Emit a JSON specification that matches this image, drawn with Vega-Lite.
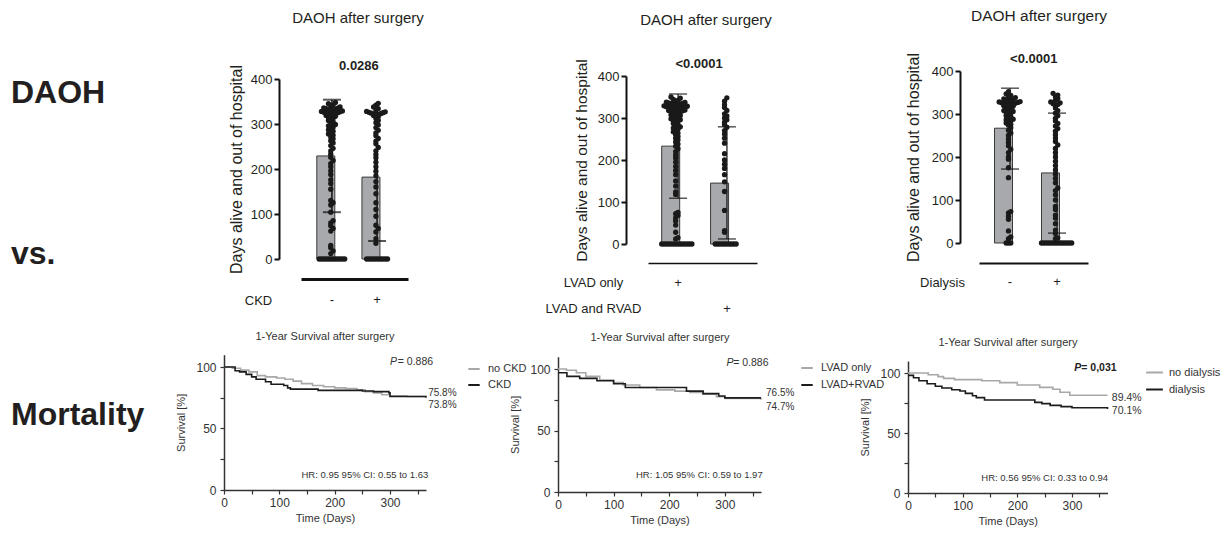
{
  "$schema": "https://vega.github.io/schema/vega-lite/v6.json",
  "padding": 0,
  "background": "white",
  "bounds": "flush",
  "spacing": 202,
  "resolve": {"scale": {"color": "independent"}, "legend": {"color": "independent"}},
  "config": {
    "font": "Liberation Sans",
    "view": {"stroke": null},
    "axis": {"grid": false, "labelFont": "Liberation Sans", "titleFont": "Liberation Sans", "labelOverlap": false, "labelFlush": false},
    "legend": {"labelFont": "Liberation Sans"},
    "title": {"font": "Liberation Sans"}
  },
  "datasets": {
    "p1sum": [{"g": "-", "mean": 229, "lo": 104, "hi": 354}, {"g": "+", "mean": 182, "lo": 40, "hi": 324}],
    "p2sum": [{"g": "LVAD only", "mean": 233, "lo": 109, "hi": 357}, {"g": "LVAD and RVAD", "mean": 145, "lo": 12, "hi": 279}],
    "p3sum": [{"g": "-", "mean": 267, "lo": 172, "hi": 360}, {"g": "+", "mean": 163, "lo": 23, "hi": 302}],
    "p1pts": [
      {"g":"-","v":0},{"g":"-","v":0},{"g":"-","v":0},{"g":"-","v":0},{"g":"-","v":0},{"g":"-","v":0},{"g":"-","v":0},{"g":"-","v":0},{"g":"-","v":0},{"g":"-","v":0},{"g":"-","v":0},{"g":"-","v":0},
      {"g":"-","v":12},{"g":"-","v":18},{"g":"-","v":25},{"g":"-","v":30},
      {"g":"-","v":62},{"g":"-","v":68},{"g":"-","v":74},{"g":"-","v":80},{"g":"-","v":85},
      {"g":"-","v":104},{"g":"-","v":120},{"g":"-","v":125},{"g":"-","v":130},
      {"g":"-","v":155},{"g":"-","v":168},{"g":"-","v":176},{"g":"-","v":188},{"g":"-","v":196},
      {"g":"-","v":205},{"g":"-","v":212},{"g":"-","v":219},{"g":"-","v":226},{"g":"-","v":233},{"g":"-","v":240},{"g":"-","v":246},{"g":"-","v":252},{"g":"-","v":258},
      {"g":"-","v":263},{"g":"-","v":267},{"g":"-","v":271},{"g":"-","v":275},{"g":"-","v":278},{"g":"-","v":281},{"g":"-","v":284},{"g":"-","v":287},{"g":"-","v":290},{"g":"-","v":293},{"g":"-","v":296},{"g":"-","v":299},
      {"g":"-","v":302},{"g":"-","v":305},{"g":"-","v":308},{"g":"-","v":311},{"g":"-","v":313},{"g":"-","v":315},{"g":"-","v":317},{"g":"-","v":319},{"g":"-","v":320},{"g":"-","v":321},{"g":"-","v":322},{"g":"-","v":323},{"g":"-","v":324},{"g":"-","v":325},{"g":"-","v":326},{"g":"-","v":327},{"g":"-","v":328},{"g":"-","v":329},{"g":"-","v":330},{"g":"-","v":331},{"g":"-","v":332},{"g":"-","v":333},{"g":"-","v":334},{"g":"-","v":335},{"g":"-","v":336},{"g":"-","v":338},{"g":"-","v":340},{"g":"-","v":342},{"g":"-","v":345},{"g":"-","v":348},
      {"g":"+","v":0},{"g":"+","v":0},{"g":"+","v":0},{"g":"+","v":0},{"g":"+","v":0},{"g":"+","v":0},{"g":"+","v":0},{"g":"+","v":0},{"g":"+","v":0},{"g":"+","v":0},
      {"g":"+","v":35},{"g":"+","v":45},{"g":"+","v":60},{"g":"+","v":68},{"g":"+","v":75},{"g":"+","v":95},{"g":"+","v":110},{"g":"+","v":125},{"g":"+","v":145},{"g":"+","v":160},{"g":"+","v":172},{"g":"+","v":185},{"g":"+","v":195},{"g":"+","v":205},{"g":"+","v":215},{"g":"+","v":225},{"g":"+","v":232},{"g":"+","v":240},{"g":"+","v":248},{"g":"+","v":256},{"g":"+","v":262},{"g":"+","v":268},{"g":"+","v":274},{"g":"+","v":280},{"g":"+","v":286},{"g":"+","v":292},{"g":"+","v":298},{"g":"+","v":303},{"g":"+","v":308},{"g":"+","v":312},{"g":"+","v":316},{"g":"+","v":319},{"g":"+","v":320},{"g":"+","v":321},{"g":"+","v":322},{"g":"+","v":323},{"g":"+","v":324},{"g":"+","v":325},{"g":"+","v":326},{"g":"+","v":327},{"g":"+","v":328},{"g":"+","v":330},{"g":"+","v":334},{"g":"+","v":338},{"g":"+","v":342},{"g":"+","v":346}
    ],
    "p2pts": [
      {"g":"LVAD only","v":0},{"g":"LVAD only","v":0},{"g":"LVAD only","v":0},{"g":"LVAD only","v":0},{"g":"LVAD only","v":0},{"g":"LVAD only","v":0},{"g":"LVAD only","v":0},{"g":"LVAD only","v":0},{"g":"LVAD only","v":0},{"g":"LVAD only","v":0},{"g":"LVAD only","v":0},{"g":"LVAD only","v":0},{"g":"LVAD only","v":0},{"g":"LVAD only","v":0},
      {"g":"LVAD only","v":12},{"g":"LVAD only","v":15},{"g":"LVAD only","v":28},{"g":"LVAD only","v":45},{"g":"LVAD only","v":55},{"g":"LVAD only","v":62},{"g":"LVAD only","v":68},{"g":"LVAD only","v":72},{"g":"LVAD only","v":75},
      {"g":"LVAD only","v":118},{"g":"LVAD only","v":124},{"g":"LVAD only","v":138},{"g":"LVAD only","v":150},{"g":"LVAD only","v":165},{"g":"LVAD only","v":175},{"g":"LVAD only","v":185},{"g":"LVAD only","v":195},
      {"g":"LVAD only","v":205},{"g":"LVAD only","v":212},{"g":"LVAD only","v":220},{"g":"LVAD only","v":227},{"g":"LVAD only","v":233},{"g":"LVAD only","v":238},{"g":"LVAD only","v":243},{"g":"LVAD only","v":248},{"g":"LVAD only","v":252},{"g":"LVAD only","v":256},
      {"g":"LVAD only","v":260},{"g":"LVAD only","v":264},{"g":"LVAD only","v":267},{"g":"LVAD only","v":270},{"g":"LVAD only","v":273},{"g":"LVAD only","v":276},{"g":"LVAD only","v":279},{"g":"LVAD only","v":282},{"g":"LVAD only","v":285},{"g":"LVAD only","v":287},{"g":"LVAD only","v":290},{"g":"LVAD only","v":292},{"g":"LVAD only","v":294},{"g":"LVAD only","v":296},{"g":"LVAD only","v":298},
      {"g":"LVAD only","v":300},{"g":"LVAD only","v":302},{"g":"LVAD only","v":304},{"g":"LVAD only","v":306},{"g":"LVAD only","v":308},{"g":"LVAD only","v":310},{"g":"LVAD only","v":312},{"g":"LVAD only","v":314},{"g":"LVAD only","v":315},{"g":"LVAD only","v":316},{"g":"LVAD only","v":317},{"g":"LVAD only","v":318},{"g":"LVAD only","v":319},
      {"g":"LVAD only","v":320},{"g":"LVAD only","v":321},{"g":"LVAD only","v":322},{"g":"LVAD only","v":323},{"g":"LVAD only","v":324},{"g":"LVAD only","v":325},{"g":"LVAD only","v":325},{"g":"LVAD only","v":326},{"g":"LVAD only","v":327},{"g":"LVAD only","v":328},{"g":"LVAD only","v":329},
      {"g":"LVAD only","v":330},{"g":"LVAD only","v":331},{"g":"LVAD only","v":332},{"g":"LVAD only","v":333},{"g":"LVAD only","v":334},{"g":"LVAD only","v":335},{"g":"LVAD only","v":336},{"g":"LVAD only","v":337},{"g":"LVAD only","v":338},{"g":"LVAD only","v":340},{"g":"LVAD only","v":342},{"g":"LVAD only","v":344},{"g":"LVAD only","v":347},{"g":"LVAD only","v":350},
      {"g":"LVAD and RVAD","v":0},{"g":"LVAD and RVAD","v":0},{"g":"LVAD and RVAD","v":0},{"g":"LVAD and RVAD","v":0},{"g":"LVAD and RVAD","v":0},{"g":"LVAD and RVAD","v":0},{"g":"LVAD and RVAD","v":0},{"g":"LVAD and RVAD","v":0},{"g":"LVAD and RVAD","v":0},{"g":"LVAD and RVAD","v":0},
      {"g":"LVAD and RVAD","v":28},{"g":"LVAD and RVAD","v":32},{"g":"LVAD and RVAD","v":80},{"g":"LVAD and RVAD","v":125},{"g":"LVAD and RVAD","v":148},{"g":"LVAD and RVAD","v":165},{"g":"LVAD and RVAD","v":180},{"g":"LVAD and RVAD","v":190},{"g":"LVAD and RVAD","v":200},{"g":"LVAD and RVAD","v":215},{"g":"LVAD and RVAD","v":240},{"g":"LVAD and RVAD","v":252},{"g":"LVAD and RVAD","v":262},{"g":"LVAD and RVAD","v":270},{"g":"LVAD and RVAD","v":278},{"g":"LVAD and RVAD","v":284},{"g":"LVAD and RVAD","v":290},{"g":"LVAD and RVAD","v":296},{"g":"LVAD and RVAD","v":300},{"g":"LVAD and RVAD","v":305},{"g":"LVAD and RVAD","v":310},{"g":"LVAD and RVAD","v":318},{"g":"LVAD and RVAD","v":325},{"g":"LVAD and RVAD","v":332},{"g":"LVAD and RVAD","v":340},{"g":"LVAD and RVAD","v":348}
    ],
    "p3pts": [
      {"g":"-","v":0},{"g":"-","v":0},{"g":"-","v":0},{"g":"-","v":10},{"g":"-","v":14},{"g":"-","v":28},{"g":"-","v":55},{"g":"-","v":62},{"g":"-","v":70},{"g":"-","v":73},{"g":"-","v":152},{"g":"-","v":175},{"g":"-","v":195},{"g":"-","v":200},{"g":"-","v":210},{"g":"-","v":218},{"g":"-","v":226},{"g":"-","v":234},{"g":"-","v":242},{"g":"-","v":250},{"g":"-","v":256},{"g":"-","v":262},{"g":"-","v":268},{"g":"-","v":274},{"g":"-","v":276},{"g":"-","v":279},{"g":"-","v":282},{"g":"-","v":284},{"g":"-","v":286},{"g":"-","v":288},{"g":"-","v":292},{"g":"-","v":294},{"g":"-","v":296},{"g":"-","v":300},{"g":"-","v":302},{"g":"-","v":304},{"g":"-","v":306},{"g":"-","v":308},{"g":"-","v":312},{"g":"-","v":314},{"g":"-","v":316},{"g":"-","v":318},{"g":"-","v":319},{"g":"-","v":320},{"g":"-","v":321},{"g":"-","v":322},{"g":"-","v":323},{"g":"-","v":324},{"g":"-","v":325},{"g":"-","v":326},{"g":"-","v":327},{"g":"-","v":328},{"g":"-","v":329},{"g":"-","v":330},{"g":"-","v":331},{"g":"-","v":332},{"g":"-","v":333},{"g":"-","v":335},{"g":"-","v":338},{"g":"-","v":340},{"g":"-","v":343},{"g":"-","v":347},{"g":"-","v":352},
      {"g":"+","v":0},{"g":"+","v":0},{"g":"+","v":0},{"g":"+","v":0},{"g":"+","v":0},{"g":"+","v":0},{"g":"+","v":0},{"g":"+","v":0},{"g":"+","v":0},{"g":"+","v":0},{"g":"+","v":0},{"g":"+","v":0},{"g":"+","v":0},{"g":"+","v":0},
      {"g":"+","v":10},{"g":"+","v":12},{"g":"+","v":22},{"g":"+","v":30},{"g":"+","v":45},{"g":"+","v":58},{"g":"+","v":65},{"g":"+","v":78},{"g":"+","v":85},{"g":"+","v":100},{"g":"+","v":112},{"g":"+","v":122},{"g":"+","v":128},{"g":"+","v":140},{"g":"+","v":150},{"g":"+","v":160},{"g":"+","v":170},{"g":"+","v":180},{"g":"+","v":190},{"g":"+","v":200},{"g":"+","v":210},{"g":"+","v":220},{"g":"+","v":228},{"g":"+","v":236},{"g":"+","v":244},{"g":"+","v":252},{"g":"+","v":260},{"g":"+","v":266},{"g":"+","v":272},{"g":"+","v":278},{"g":"+","v":284},{"g":"+","v":290},{"g":"+","v":296},{"g":"+","v":302},{"g":"+","v":308},{"g":"+","v":314},{"g":"+","v":320},{"g":"+","v":322},{"g":"+","v":324},{"g":"+","v":326},{"g":"+","v":328},{"g":"+","v":332},{"g":"+","v":336},{"g":"+","v":340},{"g":"+","v":344},{"g":"+","v":348}
    ],
    "km1": [
      {"g":"no CKD","t":0,"s":100},{"g":"no CKD","t":15,"s":99},{"g":"no CKD","t":30,"s":97.5},{"g":"no CKD","t":45,"s":96},{"g":"no CKD","t":60,"s":93},{"g":"no CKD","t":75,"s":92},{"g":"no CKD","t":95,"s":91},{"g":"no CKD","t":110,"s":90},{"g":"no CKD","t":125,"s":88.5},{"g":"no CKD","t":140,"s":86.5},{"g":"no CKD","t":160,"s":85},{"g":"no CKD","t":180,"s":84},{"g":"no CKD","t":200,"s":83},{"g":"no CKD","t":220,"s":82.5},{"g":"no CKD","t":240,"s":81.5},{"g":"no CKD","t":255,"s":80},{"g":"no CKD","t":270,"s":79},{"g":"no CKD","t":285,"s":77.5},{"g":"no CKD","t":300,"s":76.5},{"g":"no CKD","t":330,"s":76},{"g":"no CKD","t":365,"s":76},
      {"g":"CKD","t":0,"s":100},{"g":"CKD","t":20,"s":97},{"g":"CKD","t":28,"s":96},{"g":"CKD","t":40,"s":94},{"g":"CKD","t":50,"s":92},{"g":"CKD","t":58,"s":90},{"g":"CKD","t":75,"s":88},{"g":"CKD","t":85,"s":86},{"g":"CKD","t":108,"s":85},{"g":"CKD","t":115,"s":83},{"g":"CKD","t":120,"s":82},{"g":"CKD","t":170,"s":81},{"g":"CKD","t":250,"s":80.5},{"g":"CKD","t":270,"s":80},{"g":"CKD","t":298,"s":79},{"g":"CKD","t":300,"s":76},{"g":"CKD","t":365,"s":75}
    ],
    "km2": [
      {"g":"LVAD only","t":0,"s":100},{"g":"LVAD only","t":15,"s":99},{"g":"LVAD only","t":33,"s":97},{"g":"LVAD only","t":50,"s":94},{"g":"LVAD only","t":75,"s":91},{"g":"LVAD only","t":100,"s":89},{"g":"LVAD only","t":117,"s":87},{"g":"LVAD only","t":147,"s":85},{"g":"LVAD only","t":177,"s":83},{"g":"LVAD only","t":210,"s":82},{"g":"LVAD only","t":237,"s":81},{"g":"LVAD only","t":260,"s":79.5},{"g":"LVAD only","t":285,"s":77.5},{"g":"LVAD only","t":300,"s":76},{"g":"LVAD only","t":365,"s":75},
      {"g":"LVAD+RVAD","t":0,"s":97},{"g":"LVAD+RVAD","t":16,"s":94},{"g":"LVAD+RVAD","t":39,"s":92.4},{"g":"LVAD+RVAD","t":70,"s":90.5},{"g":"LVAD+RVAD","t":100,"s":88},{"g":"LVAD+RVAD","t":121,"s":85},{"g":"LVAD+RVAD","t":231,"s":82},{"g":"LVAD+RVAD","t":261,"s":80},{"g":"LVAD+RVAD","t":289,"s":78},{"g":"LVAD+RVAD","t":300,"s":76.5},{"g":"LVAD+RVAD","t":365,"s":76.5}
    ],
    "km3": [
      {"g":"no dialysis","t":0,"s":100},{"g":"no dialysis","t":37,"s":98.5},{"g":"no dialysis","t":55,"s":97},{"g":"no dialysis","t":65,"s":95.5},{"g":"no dialysis","t":85,"s":94.5},{"g":"no dialysis","t":135,"s":93.5},{"g":"no dialysis","t":168,"s":92},{"g":"no dialysis","t":200,"s":90},{"g":"no dialysis","t":241,"s":88},{"g":"no dialysis","t":265,"s":86.5},{"g":"no dialysis","t":278,"s":84},{"g":"no dialysis","t":296,"s":81.5},{"g":"no dialysis","t":365,"s":81.5},
      {"g":"dialysis","t":0,"s":98},{"g":"dialysis","t":10,"s":96},{"g":"dialysis","t":20,"s":93.5},{"g":"dialysis","t":35,"s":91},{"g":"dialysis","t":50,"s":89},{"g":"dialysis","t":62,"s":87.5},{"g":"dialysis","t":80,"s":86},{"g":"dialysis","t":95,"s":85},{"g":"dialysis","t":105,"s":83},{"g":"dialysis","t":118,"s":81},{"g":"dialysis","t":125,"s":79.5},{"g":"dialysis","t":140,"s":77.5},{"g":"dialysis","t":227,"s":77.5},{"g":"dialysis","t":232,"s":75.5},{"g":"dialysis","t":245,"s":74.5},{"g":"dialysis","t":260,"s":73},{"g":"dialysis","t":280,"s":72},{"g":"dialysis","t":300,"s":71},{"g":"dialysis","t":365,"s":70}
    ]
  },
  "hconcat": [
    {
      "width": 22,
      "height": 533,
      "data": {"values": [{"label": "DAOH"}, {"label": "vs."}, {"label": "Mortality"}]},
      "mark": {"type": "text", "align": "left", "baseline": "alphabetic", "fontSize": 32, "fontWeight": "bold", "color": "#231f20", "font": "Liberation Sans"},
      "encoding": {
        "y": {"field": "label", "type": "nominal", "scale": {"type": "point", "domain": ["DAOH", "vs.", "Mortality"], "range": [103, 425], "padding": 0}, "axis": null},
        "text": {"field": "label"}
      }
    },
    {
      "resolve": {"scale": {"color": "independent"}, "legend": {"color": "independent"}},
      "vconcat": [
        {
          "hconcat": [
            {
              "width": 424,
              "height": 259,
              "title": {"text": "DAOH after surgery", "anchor": "start", "align": "center", "frame": "group", "dx": 134, "offset": -33, "baseline": "middle", "fontSize": 15, "fontWeight": "normal", "color": "#231f20"},
              "encoding": {
                "x": {"field": "g", "type": "nominal", "title": "CKD",
                  "scale": {"domain": ["-", "+"], "range": [77, 184], "paddingInner": 0.33, "paddingOuter": 0.35},
                  "axis": {"offset": 20, "domainWidth": 3, "domainColor": "#111", "ticks": false, "tickSize": 0, "labelAngle": 0, "labelPadding": 14, "labelFontSize": 13, "labelColor": "#231f20", "labelBaseline": "top", "titleX": 34, "titleY": 21, "titleAlign": "center", "titleBaseline": "middle", "titleFontSize": 13, "titleFontWeight": "normal", "titleColor": "#231f20"}}
              },
              "layer": [
                {"data": {"name": "p1sum"}, "mark": {"type": "bar", "color": "#a7a9ac", "stroke": "#3a3a3a", "strokeWidth": 1},
                  "encoding": {"y": {"field": "mean", "type": "quantitative", "title": "Days alive and out of hospital", "scale": {"domain": [0, 400], "range": [259, 79], "nice": false},
                    "axis": {"offset": -55, "values": [0, 100, 200, 300, 400], "domainWidth": 2, "domainColor": "#111", "tickWidth": 2, "tickColor": "#111", "tickSize": 5, "labelPadding": 2, "labelFontSize": 13, "labelColor": "#231f20", "titleFontSize": 16, "titleFontWeight": "normal", "titleColor": "#231f20", "titlePadding": 6}}}},
                {"data": {"name": "p1sum"}, "mark": {"type": "rule", "color": "#111", "strokeWidth": 1.5},
                  "encoding": {"y": {"field": "lo", "type": "quantitative", "title": "Days alive and out of hospital", "scale": {"domain": [0, 400], "range": [259, 79], "nice": false}}, "y2": {"field": "hi"}}},
                {"data": {"name": "p1sum"}, "mark": {"type": "tick", "size": 18, "thickness": 2, "color": "#111"},
                  "encoding": {"y": {"field": "lo", "type": "quantitative", "title": "Days alive and out of hospital", "scale": {"domain": [0, 400], "range": [259, 79], "nice": false}}}},
                {"data": {"name": "p1sum"}, "mark": {"type": "tick", "size": 18, "thickness": 2, "color": "#111"},
                  "encoding": {"y": {"field": "hi", "type": "quantitative", "title": "Days alive and out of hospital", "scale": {"domain": [0, 400], "range": [259, 79], "nice": false}}}},
                {"data": {"name": "p1pts"},
                  "transform": [{"bin": {"step": 10}, "field": "v", "as": "vb"}, {"window": [{"op": "row_number", "as": "k"}], "groupby": ["g", "vb"]}],
                  "mark": {"type": "circle", "size": 28, "color": "#1a1a1a", "opacity": 1},
                  "encoding": {
                    "xOffset": {"field": "k", "type": "ordinal", "scale": {"domain": [13, 11, 9, 7, 5, 3, 1, 2, 4, 6, 8, 10, 12, 14], "paddingInner": 0, "paddingOuter": 0}},
                    "y": {"field": "v", "type": "quantitative", "title": "Days alive and out of hospital", "scale": {"domain": [0, 400], "range": [259, 79], "nice": false}}}},
                {"data": {"values": [{}]}, "mark": {"type": "text", "align": "center", "baseline": "middle", "fontSize": 13, "fontWeight": "bold", "color": "#231f20"},
                  "encoding": {"x": {"datum": "+", "bandPosition": -0.1}, "y": {"datum": 428, "type": "quantitative", "scale": {"domain": [0, 400], "range": [259, 79], "nice": false}}, "text": {"value": "0.0286"}}}
              ]
            },
            {
              "width": 331,
              "height": 259,
              "title": {"text": "DAOH after surgery", "anchor": "start", "align": "center", "frame": "group", "dx": 58, "offset": -35, "baseline": "middle", "fontSize": 15, "fontWeight": "normal", "color": "#231f20"},
              "encoding": {
                "x": {"field": "g", "type": "nominal", "title": ["LVAD only", "LVAD and RVAD"],
                  "scale": {"domain": ["LVAD only", "LVAD and RVAD"], "range": [0, 109], "paddingInner": 0.33, "paddingOuter": 0.28},
                  "axis": {"offset": 4, "domainWidth": 1.5, "domainColor": "#111", "ticks": false, "tickSize": 0, "labelAngle": 0, "labelPadding": 13, "labelFontSize": 13, "labelColor": "#231f20", "labelBaseline": "top", "labelLineHeight": 26, "labelExpr": "datum.value == 'LVAD only' ? ['+', ''] : ['', '+']", "titleX": -55, "titleY": 13, "titleAlign": "center", "titleBaseline": "top", "titleLineHeight": 26, "titleFontSize": 13, "titleFontWeight": "normal", "titleColor": "#231f20"}}
              },
              "layer": [
                {"data": {"name": "p2sum"}, "mark": {"type": "bar", "color": "#a7a9ac", "stroke": "#3a3a3a", "strokeWidth": 1},
                  "encoding": {"y": {"field": "mean", "type": "quantitative", "title": "Days alive and out of hospital", "scale": {"domain": [0, 400], "range": [244, 76], "nice": false},
                    "axis": {"offset": 22, "values": [0, 100, 200, 300, 400], "domainWidth": 2, "domainColor": "#111", "tickWidth": 2, "tickColor": "#111", "tickSize": 5, "labelPadding": 2, "labelFontSize": 13, "labelColor": "#231f20", "titleFontSize": 15.5, "titleFontWeight": "normal", "titleColor": "#231f20", "titlePadding": 8}}}},
                {"data": {"name": "p2sum"}, "mark": {"type": "rule", "color": "#111", "strokeWidth": 1.2},
                  "encoding": {"y": {"field": "lo", "type": "quantitative", "title": "Days alive and out of hospital", "scale": {"domain": [0, 400], "range": [244, 76], "nice": false}}, "y2": {"field": "hi"}}},
                {"data": {"name": "p2sum"}, "mark": {"type": "tick", "size": 18, "thickness": 1.5, "color": "#111"},
                  "encoding": {"y": {"field": "lo", "type": "quantitative", "title": "Days alive and out of hospital", "scale": {"domain": [0, 400], "range": [244, 76], "nice": false}}}},
                {"data": {"name": "p2sum"}, "mark": {"type": "tick", "size": 18, "thickness": 1.5, "color": "#111"},
                  "encoding": {"y": {"field": "hi", "type": "quantitative", "title": "Days alive and out of hospital", "scale": {"domain": [0, 400], "range": [244, 76], "nice": false}}}},
                {"data": {"name": "p2pts"},
                  "transform": [{"bin": {"step": 10}, "field": "v", "as": "vb"}, {"window": [{"op": "row_number", "as": "k"}], "groupby": ["g", "vb"]}],
                  "mark": {"type": "circle", "size": 28, "color": "#1a1a1a", "opacity": 1},
                  "encoding": {
                    "xOffset": {"field": "k", "type": "ordinal", "scale": {"domain": [13, 11, 9, 7, 5, 3, 1, 2, 4, 6, 8, 10, 12, 14], "paddingInner": 0, "paddingOuter": 0}},
                    "y": {"field": "v", "type": "quantitative", "title": "Days alive and out of hospital", "scale": {"domain": [0, 400], "range": [244, 76], "nice": false}}}},
                {"data": {"values": [{}]}, "mark": {"type": "text", "align": "center", "baseline": "middle", "fontSize": 13, "fontWeight": "bold", "color": "#231f20"},
                  "encoding": {"x": {"datum": "LVAD and RVAD", "bandPosition": -0.35}, "y": {"datum": 428, "type": "quantitative", "scale": {"domain": [0, 400], "range": [244, 76], "nice": false}}, "text": {"value": "<0.0001"}}}
              ]
            },
            {
              "width": 120,
              "height": 259,
              "title": {"text": "DAOH after surgery", "anchor": "start", "align": "center", "frame": "group", "dx": 60, "offset": -31, "baseline": "middle", "fontSize": 15.5, "fontWeight": "normal", "color": "#231f20"},
              "encoding": {
                "x": {"field": "g", "type": "nominal", "title": "Dialysis",
                  "scale": {"domain": ["-", "+"], "range": [0, 109], "paddingInner": 0.34, "paddingOuter": 0.33},
                  "axis": {"offset": 4, "domainWidth": 2, "domainColor": "#111", "ticks": false, "tickSize": 0, "labelAngle": 0, "labelPadding": 12, "labelFontSize": 13, "labelColor": "#231f20", "labelBaseline": "top", "titleX": -37, "titleY": 19, "titleAlign": "center", "titleBaseline": "middle", "titleFontSize": 13, "titleFontWeight": "normal", "titleColor": "#231f20"}}
              },
              "layer": [
                {"data": {"name": "p3sum"}, "mark": {"type": "bar", "color": "#a7a9ac", "stroke": "#3a3a3a", "strokeWidth": 1},
                  "encoding": {"y": {"field": "mean", "type": "quantitative", "title": "Days alive and out of hospital", "scale": {"domain": [0, 400], "range": [243, 71], "nice": false},
                    "axis": {"offset": 19, "values": [0, 100, 200, 300, 400], "domainWidth": 2, "domainColor": "#111", "tickWidth": 2, "tickColor": "#111", "tickSize": 5, "labelPadding": 2, "labelFontSize": 13, "labelColor": "#231f20", "titleFontSize": 16, "titleFontWeight": "normal", "titleColor": "#231f20", "titlePadding": 10}}}},
                {"data": {"name": "p3sum"}, "mark": {"type": "rule", "color": "#111", "strokeWidth": 1.2},
                  "encoding": {"y": {"field": "lo", "type": "quantitative", "title": "Days alive and out of hospital", "scale": {"domain": [0, 400], "range": [243, 71], "nice": false}}, "y2": {"field": "hi"}}},
                {"data": {"name": "p3sum"}, "mark": {"type": "tick", "size": 18, "thickness": 1.5, "color": "#111"},
                  "encoding": {"y": {"field": "lo", "type": "quantitative", "title": "Days alive and out of hospital", "scale": {"domain": [0, 400], "range": [243, 71], "nice": false}}}},
                {"data": {"name": "p3sum"}, "mark": {"type": "tick", "size": 18, "thickness": 1.5, "color": "#111"},
                  "encoding": {"y": {"field": "hi", "type": "quantitative", "title": "Days alive and out of hospital", "scale": {"domain": [0, 400], "range": [243, 71], "nice": false}}}},
                {"data": {"name": "p3pts"},
                  "transform": [{"bin": {"step": 10}, "field": "v", "as": "vb"}, {"window": [{"op": "row_number", "as": "k"}], "groupby": ["g", "vb"]}],
                  "mark": {"type": "circle", "size": 28, "color": "#1a1a1a", "opacity": 1},
                  "encoding": {
                    "xOffset": {"field": "k", "type": "ordinal", "scale": {"domain": [13, 11, 9, 7, 5, 3, 1, 2, 4, 6, 8, 10, 12, 14], "paddingInner": 0, "paddingOuter": 0}},
                    "y": {"field": "v", "type": "quantitative", "title": "Days alive and out of hospital", "scale": {"domain": [0, 400], "range": [243, 71], "nice": false}}}},
                {"data": {"values": [{}]}, "mark": {"type": "text", "align": "center", "baseline": "middle", "fontSize": 13, "fontWeight": "bold", "color": "#231f20"},
                  "encoding": {"x": {"datum": "+", "bandPosition": -0.25}, "y": {"datum": 428, "type": "quantitative", "scale": {"domain": [0, 400], "range": [243, 71], "nice": false}}, "text": {"value": "<0.0001"}}}
              ]
            }
          ],
          "spacing": 0,
          "bounds": "flush"
        },
        {
          "resolve": {"scale": {"color": "independent"}, "legend": {"color": "independent"}},
          "hconcat": [
            {
              "width": 334,
              "height": 136,
              "title": {"text": "1-Year Survival after surgery", "anchor": "start", "align": "center", "frame": "group", "dx": 101, "offset": 6, "baseline": "middle", "fontSize": 11, "fontWeight": "normal", "color": "#333"},
              "encoding": {
                "x": {"type": "quantitative", "title": "Time (Days)", "scale": {"domain": [0, 365], "range": [0, 202], "nice": false, "zero": false},
                  "axis": {"values": [0, 50, 100, 150, 200, 250, 300, 350], "labelExpr": "datum.value % 100 == 0 ? datum.label : ''", "domainColor": "#333", "domainWidth": 1.5, "tickColor": "#333", "tickWidth": 1.2, "tickSize": 4, "labelFontSize": 12, "labelColor": "#333", "labelPadding": 3, "titleFontSize": 11, "titleFontWeight": "normal", "titleColor": "#333", "titlePadding": 4}},
                "y": {"type": "quantitative", "title": "Survival [%]", "scale": {"domain": [0, 110], "range": [136, 0.7], "nice": false},
                  "axis": {"values": [0, 25, 50, 75, 100], "labelExpr": "datum.value % 50 == 0 ? datum.label : ''", "domainColor": "#333", "domainWidth": 1.5, "tickColor": "#333", "tickWidth": 1.2, "tickSize": 4, "labelFontSize": 12, "labelColor": "#333", "labelPadding": 4, "titleFontSize": 11, "titleFontWeight": "normal", "titleColor": "#333", "titlePadding": 9}}
              },
              "layer": [
                {"data": {"name": "km1"}, "mark": {"type": "line", "interpolate": "step-after", "strokeWidth": 1.6},
                  "encoding": {"x": {"field": "t"}, "y": {"field": "s"},
                    "color": {"field": "g", "type": "nominal", "scale": {"domain": ["no CKD", "CKD"], "range": ["#a8a8a8", "#1c1c1c"]},
                      "legend": {"orient": "none", "legendX": 243, "legendY": 8, "title": null, "symbolType": "stroke", "symbolSize": 130, "symbolStrokeWidth": 2, "labelFontSize": 11, "labelColor": "#333", "labelOffset": 7, "rowPadding": 4, "padding": 0}}}},
                {"data": {"values": [{}]}, "mark": {"type": "text", "align": "left", "baseline": "middle", "fontSize": 10.5, "fontStyle": "italic", "color": "#333"},
                  "encoding": {"x": {"datum": 300}, "y": {"datum": 104}, "text": {"value": "P"}}},
                {"data": {"values": [{}]}, "mark": {"type": "text", "align": "left", "baseline": "middle", "fontSize": 10.5, "color": "#333"},
                  "encoding": {"x": {"datum": 314}, "y": {"datum": 104}, "text": {"value": "= 0.886"}}},
                {"data": {"values": [{}]}, "mark": {"type": "text", "align": "left", "baseline": "middle", "fontSize": 10, "color": "#333"},
                  "encoding": {"x": {"datum": 369}, "y": {"datum": 79}, "text": {"value": "75.8%"}}},
                {"data": {"values": [{}]}, "mark": {"type": "text", "align": "left", "baseline": "middle", "fontSize": 10, "color": "#333"},
                  "encoding": {"x": {"datum": 369}, "y": {"datum": 69}, "text": {"value": "73.8%"}}},
                {"data": {"values": [{}]}, "mark": {"type": "text", "align": "right", "baseline": "middle", "fontSize": 9.5, "color": "#333"},
                  "encoding": {"x": {"datum": 369}, "y": {"datum": 12}, "text": {"value": "HR: 0.95 95% CI: 0.55 to 1.63"}}}
              ]
            },
            {
              "width": 350,
              "height": 138,
              "title": {"text": "1-Year Survival after surgery", "anchor": "start", "align": "center", "frame": "group", "dx": 102, "offset": 5, "baseline": "middle", "fontSize": 11, "fontWeight": "normal", "color": "#333"},
              "encoding": {
                "x": {"type": "quantitative", "title": "Time (Days)", "scale": {"domain": [0, 365], "range": [0, 203], "nice": false, "zero": false},
                  "axis": {"values": [0, 50, 100, 150, 200, 250, 300, 350], "labelExpr": "datum.value % 100 == 0 ? datum.label : ''", "domainColor": "#333", "domainWidth": 1.5, "tickColor": "#333", "tickWidth": 1.2, "tickSize": 4, "labelFontSize": 12, "labelColor": "#333", "labelPadding": 3, "titleFontSize": 11, "titleFontWeight": "normal", "titleColor": "#333", "titlePadding": 4}},
                "y": {"type": "quantitative", "title": "Survival [%]", "scale": {"domain": [0, 110], "range": [138, 2.7], "nice": false},
                  "axis": {"values": [0, 25, 50, 75, 100], "labelExpr": "datum.value % 50 == 0 ? datum.label : ''", "domainColor": "#333", "domainWidth": 1.5, "tickColor": "#333", "tickWidth": 1.2, "tickSize": 4, "labelFontSize": 12, "labelColor": "#333", "labelPadding": 4, "titleFontSize": 11, "titleFontWeight": "normal", "titleColor": "#333", "titlePadding": 9}}
              },
              "layer": [
                {"data": {"name": "km2"}, "mark": {"type": "line", "interpolate": "step-after", "strokeWidth": 1.6},
                  "encoding": {"x": {"field": "t"}, "y": {"field": "s"},
                    "color": {"field": "g", "type": "nominal", "scale": {"domain": ["LVAD only", "LVAD+RVAD"], "range": ["#a8a8a8", "#1c1c1c"]},
                      "legend": {"orient": "none", "legendX": 242, "legendY": 7, "title": null, "symbolType": "stroke", "symbolSize": 130, "symbolStrokeWidth": 2, "labelFontSize": 11, "labelColor": "#333", "labelOffset": 7, "rowPadding": 5, "padding": 0}}}},
                {"data": {"values": [{}]}, "mark": {"type": "text", "align": "left", "baseline": "middle", "fontSize": 10.5, "fontStyle": "italic", "color": "#333"},
                  "encoding": {"x": {"datum": 303}, "y": {"datum": 105}, "text": {"value": "P"}}},
                {"data": {"values": [{}]}, "mark": {"type": "text", "align": "left", "baseline": "middle", "fontSize": 10.5, "color": "#333"},
                  "encoding": {"x": {"datum": 315}, "y": {"datum": 105}, "text": {"value": "= 0.886"}}},
                {"data": {"values": [{}]}, "mark": {"type": "text", "align": "left", "baseline": "middle", "fontSize": 10, "color": "#333"},
                  "encoding": {"x": {"datum": 374}, "y": {"datum": 80.5}, "text": {"value": "76.5%"}}},
                {"data": {"values": [{}]}, "mark": {"type": "text", "align": "left", "baseline": "middle", "fontSize": 10, "color": "#333"},
                  "encoding": {"x": {"datum": 374}, "y": {"datum": 69}, "text": {"value": "74.7%"}}},
                {"data": {"values": [{}]}, "mark": {"type": "text", "align": "right", "baseline": "middle", "fontSize": 9.5, "color": "#333"},
                  "encoding": {"x": {"datum": 368}, "y": {"datum": 14}, "text": {"value": "HR: 1.05 95% CI: 0.59 to 1.97"}}}
              ]
            },
            {
              "width": 200,
              "height": 139,
              "title": {"text": "1-Year Survival after surgery", "anchor": "start", "align": "center", "frame": "group", "dx": 100, "offset": 0, "baseline": "middle", "fontSize": 11, "fontWeight": "normal", "color": "#333"},
              "encoding": {
                "x": {"type": "quantitative", "title": "Time (Days)", "scale": {"domain": [0, 365], "range": [0, 199.5], "nice": false, "zero": false},
                  "axis": {"values": [0, 50, 100, 150, 200, 250, 300, 350], "labelExpr": "datum.value % 100 == 0 ? datum.label : ''", "domainColor": "#333", "domainWidth": 1.5, "tickColor": "#333", "tickWidth": 1.2, "tickSize": 4, "labelFontSize": 12, "labelColor": "#333", "labelPadding": 3, "titleFontSize": 11, "titleFontWeight": "normal", "titleColor": "#333", "titlePadding": 4}},
                "y": {"type": "quantitative", "title": "Survival [%]", "scale": {"domain": [0, 110], "range": [139, 7], "nice": false},
                  "axis": {"values": [0, 25, 50, 75, 100], "labelExpr": "datum.value % 50 == 0 ? datum.label : ''", "domainColor": "#333", "domainWidth": 1.5, "tickColor": "#333", "tickWidth": 1.2, "tickSize": 4, "labelFontSize": 12, "labelColor": "#333", "labelPadding": 4, "titleFontSize": 11, "titleFontWeight": "normal", "titleColor": "#333", "titlePadding": 9}}
              },
              "layer": [
                {"data": {"name": "km3"}, "mark": {"type": "line", "interpolate": "step-after", "strokeWidth": 1.6},
                  "encoding": {"x": {"field": "t"}, "y": {"field": "s"},
                    "color": {"field": "g", "type": "nominal", "scale": {"domain": ["no dialysis", "dialysis"], "range": ["#a8a8a8", "#1c1c1c"]},
                      "legend": {"orient": "none", "legendX": 237, "legendY": 9, "title": null, "symbolType": "stroke", "symbolSize": 280, "symbolStrokeWidth": 2, "labelFontSize": 11, "labelColor": "#333", "labelOffset": 5, "rowPadding": 2, "padding": 0}}}},
                {"data": {"values": [{}]}, "mark": {"type": "text", "align": "left", "baseline": "middle", "fontSize": 10.5, "fontStyle": "italic", "fontWeight": "bold", "color": "#222"},
                  "encoding": {"x": {"datum": 304}, "y": {"datum": 104}, "text": {"value": "P"}}},
                {"data": {"values": [{}]}, "mark": {"type": "text", "align": "left", "baseline": "middle", "fontSize": 10.5, "fontWeight": "bold", "color": "#222"},
                  "encoding": {"x": {"datum": 317}, "y": {"datum": 104}, "text": {"value": "= 0,031"}}},
                {"data": {"values": [{}]}, "mark": {"type": "text", "align": "left", "baseline": "middle", "fontSize": 10.5, "color": "#333"},
                  "encoding": {"x": {"datum": 373}, "y": {"datum": 79}, "text": {"value": "89.4%"}}},
                {"data": {"values": [{}]}, "mark": {"type": "text", "align": "left", "baseline": "middle", "fontSize": 10.5, "color": "#333"},
                  "encoding": {"x": {"datum": 373}, "y": {"datum": 68}, "text": {"value": "70.1%"}}},
                {"data": {"values": [{}]}, "mark": {"type": "text", "align": "right", "baseline": "middle", "fontSize": 9.5, "color": "#333"},
                  "encoding": {"x": {"datum": 366}, "y": {"datum": 12.5}, "text": {"value": "HR: 0.56 95% CI: 0.33 to 0.94"}}}
              ]
            }
          ],
          "spacing": 0,
          "bounds": "flush"
        }
      ],
      "spacing": 354,
      "bounds": "flush"
    }
  ]
}
